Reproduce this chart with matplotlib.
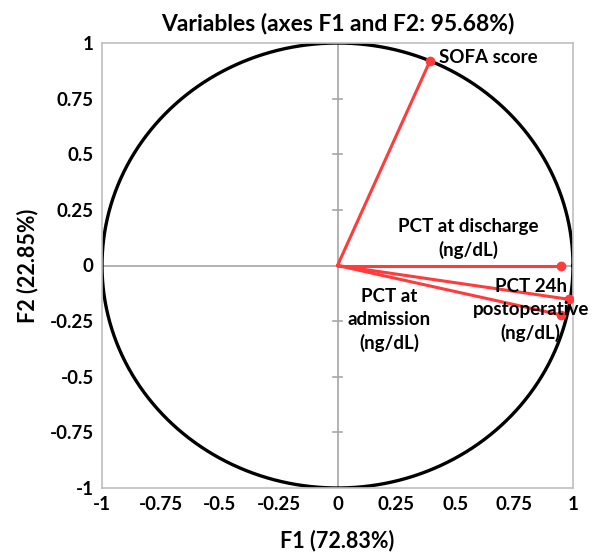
import matplotlib
matplotlib.use("Agg")
import matplotlib.pyplot as plt
import numpy as np

plt.rcParams['font.family'] = ['Lato', 'DejaVu Sans']

variables = ["SOFA score", "PCT at discharge\n(ng/dL)", "PCT 24h\npostoperative\n(ng/dL)", "PCT at\nadmission\n(ng/dL)"]
f1 = [0.393, 0.948, 0.983, 0.948]
f2 = [0.920, 0.000, -0.152, -0.222]
ticks = [-1, -0.75, -0.5, -0.25, 0, 0.25, 0.5, 0.75, 1]
tick_labels = ["-1", "-0.75", "-0.5", "-0.25", "0", "0.25", "0.5", "0.75", "1"]

# label anchor positions (data coords) and alignments
label_pos = [(0.43, 0.937), (0.554, 0.121), (0.82, -0.20), (0.22, -0.245)]
label_ha = ['left', 'center', 'center', 'center']

fig = plt.figure(figsize=(5.96, 5.55), dpi=100)
ax = fig.add_axes([102/596, 1-488/555, (573-102)/596, (488-43)/555])
ax.set_xlim(-1, 1)
ax.set_ylim(-1, 1)

for s in ax.spines.values():
    s.set_color('#bfbfbf')
    s.set_linewidth(1.2)

ax.axhline(0, color='#a6a6a6', lw=1.2, zorder=1)
ax.axvline(0, color='#a6a6a6', lw=1.2, zorder=1)
for t in ticks:
    if t not in (-1, 0, 1):
        ax.plot([-0.018, 0.018], [t, t], color='#a6a6a6', lw=1.2, zorder=1)

theta = np.linspace(0, 2*np.pi, 400)
ax.plot(np.cos(theta), np.sin(theta), color='black', lw=2.4, zorder=2)

for x, y in zip(f1, f2):
    ax.plot([0, x], [0, y], color='#ff3b3b', lw=2.2, zorder=3, solid_capstyle='round')
    ax.plot(x, y, 'o', color='#ff3b3b', ms=6, zorder=4)

for name, (lx, ly), ha in zip(variables, label_pos, label_ha):
    ax.text(lx, ly, name, ha=ha, va='center', fontsize=13.5, fontweight='bold',
            linespacing=1.4, zorder=5)

ax.set_xticks(ticks)
ax.set_xticklabels(tick_labels)
ax.set_yticks(ticks)
ax.set_yticklabels(tick_labels)
ax.tick_params(length=0, labelsize=13.5, pad=6)
for lab in ax.get_xticklabels() + ax.get_yticklabels():
    lab.set_fontweight('bold')

ax.set_title("Variables (axes F1 and F2: 95.68%)", fontsize=16.5, fontweight='bold', pad=9)
ax.set_xlabel("F1 (72.83%)", fontsize=15.5, fontweight='bold', labelpad=12)
ax.set_ylabel("F2 (22.85%)", fontsize=15.5, fontweight='bold', labelpad=8)

fig.savefig("out.png", dpi=100)
